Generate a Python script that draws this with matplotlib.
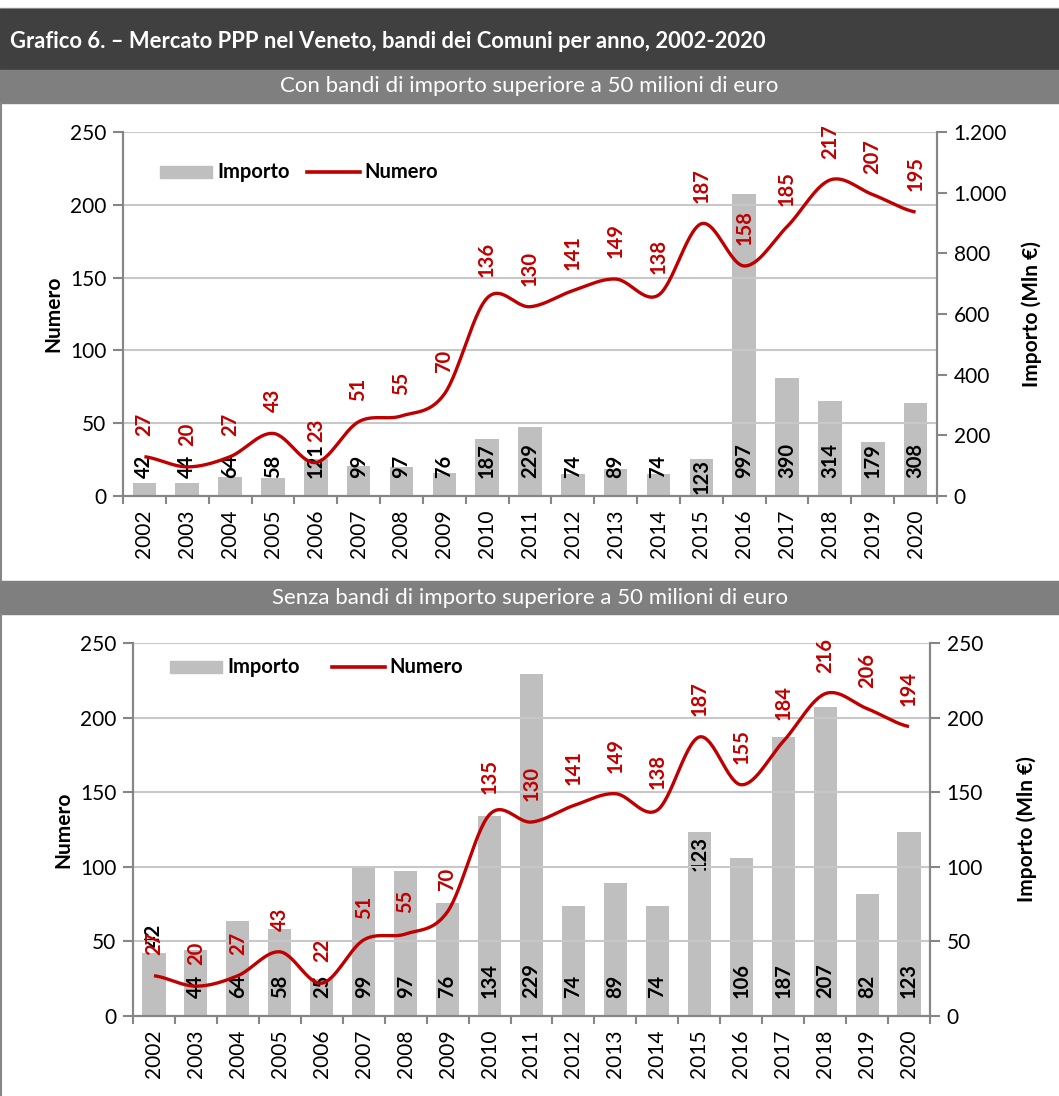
import numpy as np
import matplotlib
matplotlib.use("Agg")
import matplotlib.pyplot as plt
from matplotlib.patches import Rectangle
from matplotlib.lines import Line2D
from matplotlib.ticker import FuncFormatter

plt.rcParams['font.family'] = ['Lato', 'DejaVu Sans']

# Dati
anni = [str(a) for a in range(2002, 2021)]

numero_con = [27, 20, 27, 43, 23, 51, 55, 70, 136, 130, 141, 149, 138, 187, 158, 185, 217, 207, 195]
importo_con = [42, 44, 64, 58, 121, 99, 97, 76, 187, 229, 74, 89, 74, 123, 997, 390, 314, 179, 308]

numero_senza = [27, 20, 27, 43, 22, 51, 55, 70, 135, 130, 141, 149, 138, 187, 155, 184, 216, 206, 194]
importo_senza = [42, 44, 64, 58, 25, 99, 97, 76, 134, 229, 74, 89, 74, 123, 106, 187, 207, 82, 123]

titolo = "Grafico 6. \u2013 Mercato PPP nel Veneto, bandi dei Comuni per anno, 2002-2020"
sottotitolo_con = "Con bandi di importo superiore a 50 milioni di euro"
sottotitolo_senza = "Senza bandi di importo superiore a 50 milioni di euro"

ROSSO = '#C00000'
GRIGIO_BAR = '#BFBFBF'
GRIGIO_AX = '#868686'
GRIGIO_GRID = '#C8C8C8'

FS_TICK = 15
FS_LAB = 14.5

W, H = 1059, 1096
fig = plt.figure(figsize=(W / 100, H / 100), dpi=100)


def px_rect(x0, y0, x1, y1):
    # pixel (top-left origin) -> figure fraction
    return [x0 / W, 1 - y1 / H, (x1 - x0) / W, (y1 - y0) / H]


def smooth(y, n=30):
    # spline tipo Excel (Catmull-Rom)
    y = np.asarray(y, float)
    p = np.concatenate([[y[0]], y, [y[-1]]])
    xs, ys = [], []
    for i in range(len(y) - 1):
        p0, p1, p2, p3 = p[i], p[i + 1], p[i + 2], p[i + 3]
        m1 = (p2 - p0) / 2
        m2 = (p3 - p1) / 2
        t = np.linspace(0, 1, n, endpoint=False)
        h00 = 2 * t**3 - 3 * t**2 + 1
        h10 = t**3 - 2 * t**2 + t
        h01 = -2 * t**3 + 3 * t**2
        h11 = t**3 - t**2
        xs.append(i + t)
        ys.append(h00 * p1 + h10 * m1 + h01 * p2 + h11 * m2)
    xs.append([len(y) - 1])
    ys.append([y[-1]])
    return np.concatenate(xs), np.concatenate(ys)


# intestazione
fig.patches.append(Rectangle((0, 1 - 9 / H), 1, 1.5 / H, transform=fig.transFigure,
                             color='#9a9a9a', zorder=0))
fig.patches.append(Rectangle((0, 1 - 70 / H), 1, 61 / H, transform=fig.transFigure,
                             color='#404040', zorder=0))
fig.text(10 / W, 1 - 42 / H, titolo, color='white', fontsize=15.8, fontweight='bold',
         va='center', ha='left')

for y0, y1, txt in [(70, 103, sottotitolo_con), (581, 614, sottotitolo_senza)]:
    fig.patches.append(Rectangle((0, 1 - y1 / H), 1, (y1 - y0) / H, transform=fig.transFigure,
                                 color='#7F7F7F', zorder=0))
    fig.text(0.5, 1 - (y0 + y1) / 2 / H, txt, color='white', fontsize=16,
             va='center', ha='center')

# bordo sinistro dei pannelli
for y0, y1 in [(103, 581), (614, 1096)]:
    fig.lines.append(Line2D([0.8 / W, 0.8 / W], [1 - y0 / H, 1 - y1 / H],
                            transform=fig.transFigure, color=GRIGIO_AX, lw=1.5))


def disegna(rect, numero, importo, rmax, rstep, leg, speciali, pads):
    ax = fig.add_axes(rect)
    ax2 = ax.twinx()
    x = np.arange(len(anni))

    # barre importo (asse destro)
    ax2.bar(x, importo, width=0.55, color=GRIGIO_BAR, zorder=1)
    ax2.set_ylim(0, rmax)
    ax2.set_yticks(np.arange(0, rmax + 1, rstep))
    ax2.yaxis.set_major_formatter(FuncFormatter(lambda v, p: f"{int(v):,}".replace(',', '.')))

    # linea numero (asse sinistro)
    ax.set_zorder(ax2.get_zorder() + 1)
    ax.patch.set_visible(False)
    sx, sy = smooth(numero)
    ax.plot(sx, sy, color=ROSSO, lw=2.4, zorder=3, solid_capstyle='butt')
    ax.set_ylim(0, 250)
    ax.set_yticks(np.arange(0, 251, 50))
    ax.set_xlim(-0.5, len(anni) - 0.5)
    ax.set_xticks(x)
    ax.set_xticklabels(anni, rotation=90)
    ax.set_xticks(np.arange(-0.5, len(anni)), minor=True)
    ax.tick_params(axis='x', which='major', length=0, pad=10, labelsize=FS_TICK)
    ax.tick_params(axis='x', which='minor', length=6, width=1.5, color=GRIGIO_AX, direction='out')
    ax.tick_params(axis='y', length=7, width=1.5, color=GRIGIO_AX, labelsize=FS_TICK, pad=5)
    ax2.tick_params(axis='y', length=7, width=1.5, color=GRIGIO_AX, labelsize=FS_TICK, pad=5)
    ax.grid(axis='y', color=GRIGIO_GRID, lw=1.5, zorder=0)
    ax.set_axisbelow(True)
    for a in (ax, ax2):
        a.spines['top'].set_visible(False)
        for s in ['left', 'right', 'bottom']:
            a.spines[s].set_color(GRIGIO_AX)
            a.spines[s].set_linewidth(1.5)
    ax.set_ylabel('Numero', fontsize=15, fontweight='bold', labelpad=pads[0])
    ax2.set_ylabel('Importo (Mln \u20ac)', fontsize=15, fontweight='bold', labelpad=pads[1])

    # etichette dati
    for i in range(len(anni)):
        if i in speciali:
            ax2.annotate(str(importo[i]), (x[i], importo[i]), xytext=(0, speciali[i]),
                         textcoords='offset pixels', rotation=90, ha='center', va='top',
                         fontsize=FS_LAB, fontweight='bold', color='black', zorder=4)
        else:
            ax2.annotate(str(importo[i]), (x[i], 0), xytext=(0, 18), textcoords='offset pixels',
                         rotation=90, ha='center', va='bottom', fontsize=FS_LAB,
                         fontweight='bold', color='black', zorder=4)
        ax.annotate(str(numero[i]), (x[i], numero[i]), xytext=(0, 21), textcoords='offset pixels',
                    rotation=90, ha='center', va='bottom', fontsize=FS_LAB,
                    fontweight='bold', color=ROSSO, zorder=5)

    # legenda
    lx_bar, lx_line, ly = leg
    fig.patches.append(Rectangle((lx_bar / W, 1 - (ly + 6) / H), 52 / W, 12 / H,
                                 transform=fig.transFigure, color=GRIGIO_BAR))
    fig.text((lx_bar + 57) / W, 1 - ly / H, 'Importo', fontsize=14.5, fontweight='bold',
             va='center', ha='left')
    fig.lines.append(Line2D([lx_line / W, (lx_line + 53) / W], [1 - ly / H, 1 - ly / H],
                            transform=fig.transFigure, color=ROSSO, lw=2.6))
    fig.text((lx_line + 57) / W, 1 - ly / H, 'Numero', fontsize=14.5, fontweight='bold',
             va='center', ha='left')
    return ax, ax2


disegna(px_rect(123, 132, 937, 496), numero_con, importo_con, 1200, 200,
        (160, 307, 172), {13: 0}, (5, 10))
disegna(px_rect(133, 643, 930, 1016), numero_senza, importo_senza, 250, 50,
        (170, 332, 667), {0: 30, 13: -4}, (5, 24))

fig.savefig('out.png', dpi=100)
